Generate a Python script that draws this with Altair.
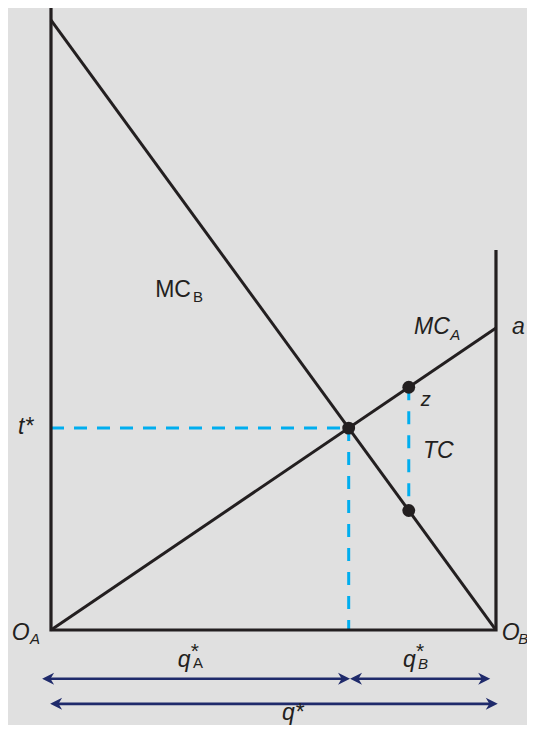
import altair as alt
import pandas as pd

# ---- data (economic units: quantity 0..100, price 0..~100) ----
mcb_q = [0, 100]
mcb_p = [100, 0]
mca_q = [0, 100]
mca_p = [0, 49.5]

frame_q = [0, 0, 100, 100]
frame_p = [102, 0, 0, 62.3]

q_star = 66.9
t_star = 33.1
q_z = 80.4
z_p = 39.8
low_p = 19.6

dash_h_q = [0, q_star]
dash_h_p = [t_star, t_star]
dash_v1_q = [q_star, q_star]
dash_v1_p = [t_star, 0]
dash_v2_q = [q_z, q_z]
dash_v2_p = [z_p, low_p]

dot_q = [q_star, q_z, q_z]
dot_p = [t_star, z_p, low_p]

arrow_start = [-2.0, 67.2, -0.2]
arrow_end = [67.2, 98.7, 100.4]
arrow_p = [-8.0, -8.0, -12.1]

# labels: main text
lab_text = ["O", "O", "q", "q", "q*", "t*", "MC", "MC", "a", "z", "TC"]
lab_q = [-8.8, 101.3, 28.5, 79.1, 51.9, -7.4, 23.4, 81.6, 103.6, 83.1, 83.6]
lab_p = [-1.64, -1.64, -6.07, -6.07, -14.75, 32.1, 54.6, 48.5, 48.5, 36.7, 28.2]
lab_style = ["italic", "italic", "italic", "italic", "italic", "italic", "normal", "italic", "italic", "italic", "italic"]
lab_size = [23, 23, 23, 23, 23, 23, 23, 23, 23, 20, 23]

# superscript stars over the q*_A / q*_B subscripts
star_q = [31.4, 82.0]
star_p = [-4.6, -4.6]

# subscripts
sub_text = ["A", "B", "A", "B", "B", "A"]
sub_q = [-4.7, 105.0, 31.9, 82.5, 31.9, 89.7]
sub_p = [-2.3, -2.3, -6.3, -6.4, 53.8, 47.5]
sub_style = ["italic", "italic", "normal", "italic", "normal", "italic"]

# ---- scales ----
xs = alt.Scale(domain=[-9.663, 106.97], nice=False, zero=False)
ys = alt.Scale(domain=[-15.57, 101.97], nice=False, zero=False)

BLACK = "#231f20"
BLUE = "#00aeef"
NAVY = "#1f2a6b"
FONT = "Liberation Sans"

X = lambda: alt.X("q:Q", scale=xs, axis=None)
Y = lambda: alt.Y("p:Q", scale=ys, axis=None)


def line_layer(q, p, color, width=3, dash=None):
    df = pd.DataFrame({"q": q, "p": p, "o": list(range(len(q)))})
    kw = dict(color=color, strokeWidth=width, strokeCap="butt")
    if dash:
        kw["strokeDash"] = dash
    return alt.Chart(df).mark_line(**kw).encode(x=X(), y=Y(), order="o:Q")


layers = []
layers.append(line_layer(dash_h_q, dash_h_p, BLUE, 3, [13, 10]))
layers.append(line_layer(dash_v1_q, dash_v1_p, BLUE, 3, [13, 11]))
layers.append(line_layer(dash_v2_q, dash_v2_p, BLUE, 3, [13, 11]))
layers.append(line_layer(frame_q, frame_p, BLACK, 3.2))
layers.append(line_layer(mcb_q, mcb_p, BLACK, 3))
layers.append(line_layer(mca_q, mca_p, BLACK, 3))

dots = pd.DataFrame({"q": dot_q, "p": dot_p})
layers.append(
    alt.Chart(dots).mark_point(filled=True, color=BLACK, size=165, opacity=1).encode(x=X(), y=Y())
)

# arrows
for s, e, p in zip(arrow_start, arrow_end, arrow_p):
    layers.append(line_layer([s + 1.5, e - 1.5], [p, p], NAVY, 2.6))

left_tips = pd.DataFrame({"q": arrow_start, "p": arrow_p})
right_tips = pd.DataFrame({"q": arrow_end, "p": arrow_p})
LEFT_SHAPE = "M0,0 L2,-1 L1.4,0 L2,1 Z"
RIGHT_SHAPE = "M0,0 L-2,-1 L-1.4,0 L-2,1 Z"
layers.append(
    alt.Chart(left_tips).mark_point(shape=LEFT_SHAPE, filled=True, color=NAVY, size=144, opacity=1, strokeWidth=0).encode(x=X(), y=Y())
)
layers.append(
    alt.Chart(right_tips).mark_point(shape=RIGHT_SHAPE, filled=True, color=NAVY, size=144, opacity=1, strokeWidth=0).encode(x=X(), y=Y())
)

# labels
labels = pd.DataFrame({"t": lab_text, "q": lab_q, "p": lab_p, "st": lab_style, "sz": lab_size})
for st in ["italic", "normal"]:
    for sz in sorted(set(lab_size)):
        sub = labels[(labels.st == st) & (labels.sz == sz)]
        if len(sub) == 0:
            continue
        layers.append(
            alt.Chart(sub).mark_text(
                align="left", baseline="alphabetic", font=FONT, fontSize=sz, fontStyle=st, color=BLACK
            ).encode(x=X(), y=Y(), text="t:N")
        )

stars = pd.DataFrame({"t": ["*"] * len(star_q), "q": star_q, "p": star_p})
layers.append(
    alt.Chart(stars).mark_text(
        align="left", baseline="alphabetic", font=FONT, fontSize=21, color=BLACK
    ).encode(x=X(), y=Y(), text="t:N")
)

subs = pd.DataFrame({"t": sub_text, "q": sub_q, "p": sub_p, "st": sub_style})
for st in ["italic", "normal"]:
    sub = subs[subs.st == st]
    layers.append(
        alt.Chart(sub).mark_text(
            align="left", baseline="alphabetic", font=FONT, fontSize=15, fontStyle=st, color=BLACK
        ).encode(x=X(), y=Y(), text="t:N")
    )

chart = (
    alt.layer(*layers)
    .properties(width=519, height=717, padding=0, autosize=alt.AutoSizeParams(type="none"), background="#e0e0e0")
    .configure_view(stroke=None)
)

chart.save("out.html", embed_options={"renderer": "svg", "actions": False})
